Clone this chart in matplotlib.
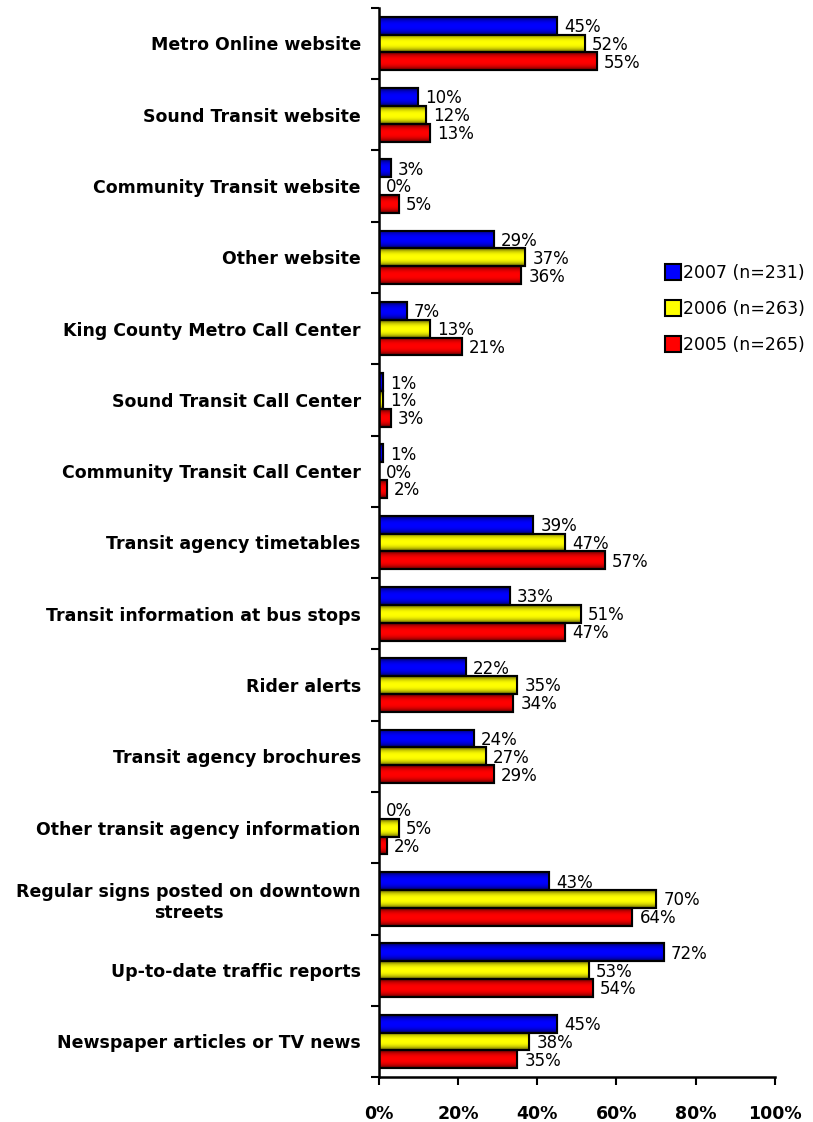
import numpy as np
import matplotlib

matplotlib.use("Agg")
import matplotlib.pyplot as plt
from matplotlib.colors import to_rgb
from matplotlib.lines import Line2D

categories = [
    "Metro Online website",
    "Sound Transit website",
    "Community Transit website",
    "Other website",
    "King County Metro Call Center",
    "Sound Transit Call Center",
    "Community Transit Call Center",
    "Transit agency timetables",
    "Transit information at bus stops",
    "Rider alerts",
    "Transit agency brochures",
    "Other transit agency information",
    "Regular signs posted on downtown\nstreets",
    "Up-to-date traffic reports",
    "Newspaper articles or TV news",
]
vals_2007 = [45, 10, 3, 29, 7, 1, 1, 39, 33, 22, 24, 0, 43, 72, 45]
vals_2006 = [52, 12, 0, 37, 13, 1, 0, 47, 51, 35, 27, 5, 70, 53, 38]
vals_2005 = [55, 13, 5, 36, 21, 3, 2, 57, 47, 34, 29, 2, 64, 54, 35]
series_names = ["2007 (n=231)", "2006 (n=263)", "2005 (n=265)"]
colors = ["#0000ff", "#ffff00", "#ff0000"]


def shaded(col, n=32):
    # cylinder-like shading: dark at top/bottom edges, bright in the middle
    t = np.linspace(0, 1, n)
    f = 1 - 0.65 * np.abs(2 * t - 1) ** 2.5
    rgb = np.array(to_rgb(col))
    return (f[:, None] * rgb[None, :])[:, None, :]


fig = plt.figure(figsize=(8.13, 11.22), dpi=100)
ax = fig.add_axes([0.466, 0.040, 0.487, 0.953])

y = np.arange(len(categories))
h = 0.25
for k, (vals, col) in enumerate(zip([vals_2007, vals_2006, vals_2005], colors)):
    pos = y + (k - 1) * h
    bars = ax.barh(pos, vals, height=h, color=col, edgecolor="black",
                   linewidth=1.5, zorder=3)
    img = shaded(col)
    for b in bars:
        x0, y0 = b.get_x(), b.get_y()
        w, hh = b.get_width(), b.get_height()
        if w <= 0:
            continue
        ax.imshow(img, extent=[x0, x0 + w, y0 + hh, y0], aspect="auto",
                  interpolation="bilinear", zorder=3.5)
        ax.add_patch(plt.Rectangle((x0, y0), w, hh, fill=False,
                                   edgecolor="black", linewidth=1.5, zorder=3.6))
    for p, v in zip(pos, vals):
        ax.text(v + 1.8, p + 0.02, f"{v}%", ha="left", va="center",
                fontsize=12, color="black", zorder=4)

ax.set_xlim(0, 100)
ax.set_ylim(len(categories) - 0.5, -0.5)

ax.set_xticks(np.arange(0, 101, 20))
ax.set_xticklabels([f"{t}%" for t in range(0, 101, 20)], fontsize=12.5, fontweight="bold")
ax.tick_params(axis="x", direction="out", length=6, width=1.5, pad=14)

ax.set_yticks(y)
ax.set_yticklabels(categories, fontsize=12.5, fontweight="bold", multialignment="center")
ax.set_yticks(np.arange(-0.5, len(categories), 1), minor=True)
ax.tick_params(axis="y", which="major", length=0, pad=13)
ax.tick_params(axis="y", which="minor", direction="out", length=6, width=1.5)

for s in ["top", "right"]:
    ax.spines[s].set_visible(False)
for s in ["left", "bottom"]:
    ax.spines[s].set_linewidth(1.8)
    ax.spines[s].set_zorder(5)

handles = [Line2D([], [], marker="s", linestyle="none", markersize=11,
                  markerfacecolor=c, markeredgecolor="black", markeredgewidth=1.5)
           for c in colors]
fig.legend(handles, series_names, loc="upper left", bbox_to_anchor=(0.798, 0.779),
           frameon=False, fontsize=12.5, handletextpad=0.1, labelspacing=1.05,
           handlelength=1.0)

fig.savefig("out.png", dpi=100)
